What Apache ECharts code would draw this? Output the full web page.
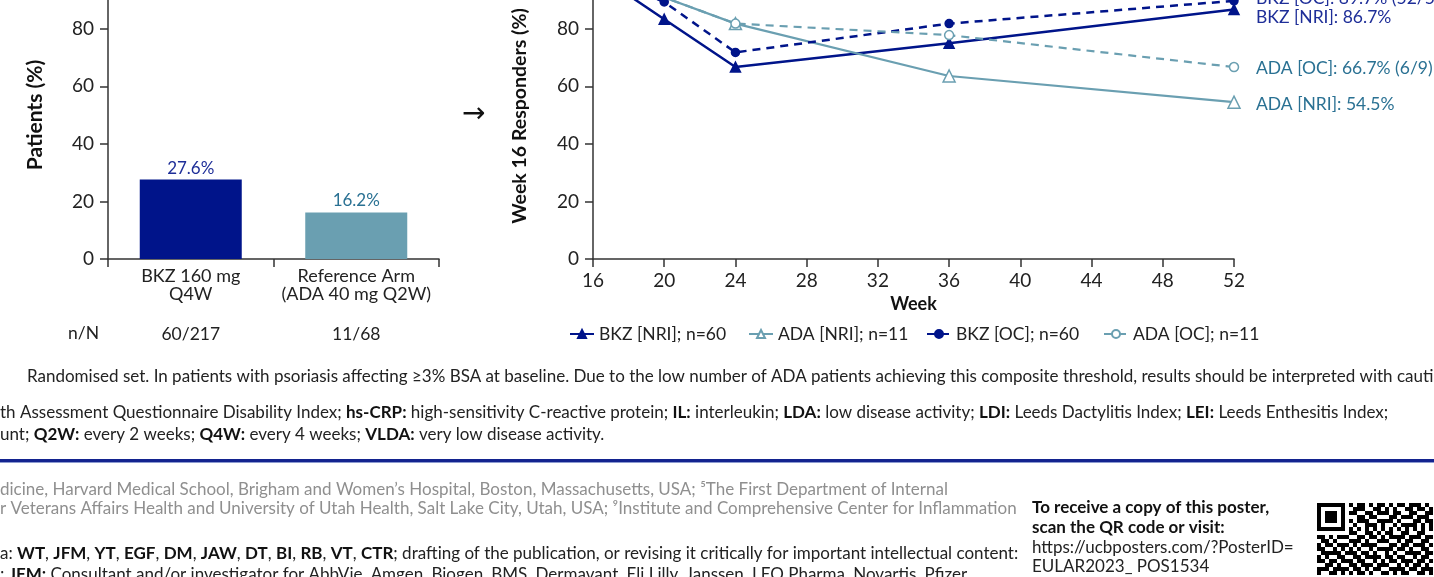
<!DOCTYPE html>
<html>
<head>
<meta charset="utf-8">
<script src="https://cdn.jsdelivr.net/npm/echarts@6.0.0/dist/echarts.min.js"></script>
<style>
  html, body { margin: 0; padding: 0; background: #fff; }
  #chart { width: 1434px; height: 577px; }
</style>
</head>
<body>
<div id="chart"></div>
<script>
// bar panel
const barCategories = ['BKZ 160 mg\nQ4W', 'Reference Arm\n(ADA 40 mg Q2W)']
const barValues = [27.6, 16.2]
const barCounts = ['60/217', '11/68']

// line panel
const weeks = [16, 20, 24, 36, 52]
const bkzNri = [100, 83.3, 66.7, 75.0, 86.7]
const adaNri = [100, 90.9, 81.8, 63.6, 54.5]
const bkzOc = [100, 89.3, 71.8, 81.8, 89.7]
const adaOc = [100, 90.9, 81.8, 77.8, 66.7]

const NAVY = '#00148A'
const TEAL = '#6A9FB1'
const NAVY_TXT = '#1E2E98'
const TEAL_TXT = '#2A7193'
const FONT = 'Lato, "Noto Sans", sans-serif'

const pairs = vals => weeks.map((w, i) => [w, vals[i]])

// QR code is only decoration
const qrRows = [
  '11111110101101011010110111010',
  '10000010011100110101001101101',
  '10111010110011011101100110011',
  '10111010001101100011011101110',
  '10111010101110011110100011011',
  '10000010010011101001011110101',
  '11111110101010101010101010101',
  '00000000110011010110011001100',
  '11010111001101101011110111011',
  '01101000111010011100101100110',
  '10110111010111100011011011101',
  '11001010101001011110110100110',
  '01111101110110100101001111011',
  '10100110011011110110110010110',
  '11011011101100101011011101101',
  '00110100110111011100101011010',
  '11101111011010110011110110111',
  '10011010101101001101011001101'
]
const qr = []
qrRows.forEach((row, r) => {
  for (let c = 0; c < row.length; c++) {
    if (row[c] === '1') {
      qr.push({ type: 'rect', shape: { x: 1317 + c * 4, y: 503 + r * 4, width: 4, height: 4 }, style: { fill: '#000' } })
    }
  }
})

const txt = (x, y, text, color, size) => ({
  type: 'text', x: x, y: y,
  style: {
    text: text, fill: color || '#222', font: (size || 17) + 'px ' + FONT, verticalAlign: 'middle',
    rich: {
      b: { fontWeight: 'bold', fontSize: size || 17, fontFamily: FONT, fill: '#111' }
    }
  }
})

// rotated axis title
const vTitle = (x, y, text, size) => ({
  type: 'text', x: x, y: y, rotation: Math.PI / 2,
  style: { text: text, fill: '#111', font: 'bold ' + size + 'px ' + FONT, align: 'center', verticalAlign: 'middle' }
})

// fresh objects for every axis
const tick = () => ({ show: true, length: 8, lineStyle: { color: '#333', width: 1.5 } })
const axisLn = () => ({ show: true, lineStyle: { color: '#333', width: 1.5 } })

const yAxisFor = gridIndex => ({
  type: 'value', gridIndex: gridIndex, min: 0, max: 90, interval: 20,
  axisLine: axisLn(),
  axisTick: tick(),
  axisLabel: { color: '#222', fontSize: 19, fontFamily: FONT, margin: 14, showMaxLabel: false },
  splitLine: { show: false }
})

const lineSeries = (name, vals, color, dashed, symbol, size, width, label, labelColor, dy) => ({
  name: name, type: 'line', xAxisIndex: 2, yAxisIndex: 1,
  data: pairs(vals),
  symbol: symbol, symbolSize: size,
  showAllSymbol: true,
  lineStyle: { color: color, width: width, type: dashed ? [8, 6] : 'solid' },
  itemStyle: { color: color, borderColor: color, borderWidth: 1.5 },
  emphasis: { disabled: true },
  endLabel: {
    show: true, formatter: label, color: labelColor, fontSize: 17.5, fontFamily: FONT,
    distance: 22, offset: [0, dy]
  }
})

const legendAt = (left, name) => ({
  left: left, top: 325, padding: 0, itemWidth: 24, itemHeight: 10, itemGap: 0,
  data: [name], selectedMode: false,
  textStyle: { fontSize: 17.5, color: '#222', fontFamily: FONT }
})

const option = {
  animation: false,
  grid: [
    { left: 108, width: 331, top: 0, height: 259 },
    { left: 593, width: 641, top: 0, height: 259 }
  ],
  xAxis: [
    {
      type: 'category', gridIndex: 0, data: barCategories,
      axisLine: axisLn(),
      axisTick: Object.assign(tick(), { alignWithLabel: false }),
      axisLabel: { color: '#222', fontSize: 18, fontFamily: FONT, margin: 8, lineHeight: 18, interval: 0 }
    },
    {
      type: 'category', gridIndex: 0, data: barCounts, position: 'bottom', offset: 66,
      axisLine: { show: false }, axisTick: { show: false },
      axisLabel: { color: '#222', fontSize: 17.5, fontFamily: FONT, margin: 0, interval: 0 }
    },
    {
      type: 'value', gridIndex: 1, min: 16, max: 52, interval: 4,
      name: 'Week', nameLocation: 'middle', nameGap: 36,
      nameTextStyle: { fontWeight: 'bold', fontSize: 18, color: '#111', fontFamily: FONT },
      axisLine: axisLn(),
      axisTick: tick(),
      axisLabel: { color: '#222', fontSize: 19, fontFamily: FONT, margin: 12 },
      splitLine: { show: false }
    }
  ],
  yAxis: [yAxisFor(0), yAxisFor(1)],
  legend: [
    legendAt(569, 'BKZ [NRI]; n=60'),
    legendAt(748, 'ADA [NRI]; n=11'),
    legendAt(926, 'BKZ [OC]; n=60'),
    legendAt(1103, 'ADA [OC]; n=11')
  ],
  series: [
    {
      type: 'bar', xAxisIndex: 0, yAxisIndex: 0,
      barWidth: 102,
      data: barValues.map((v, i) => ({
        value: v,
        itemStyle: { color: i === 0 ? NAVY : TEAL },
        label: { color: i === 0 ? NAVY_TXT : TEAL_TXT }
      })),
      label: {
        show: true, position: 'top', distance: 3, fontSize: 17, fontFamily: FONT,
        formatter: p => p.value.toFixed(1) + '%'
      },
      emphasis: { disabled: true }
    },
    lineSeries('BKZ [NRI]; n=60', bkzNri, NAVY, false, 'triangle', 10, 2.5, 'BKZ [NRI]: 86.7%', NAVY_TXT, 8),
    Object.assign(lineSeries('ADA [NRI]; n=11', adaNri, TEAL, false, 'triangle', 12, 2.2, 'ADA [NRI]: 54.5%', TEAL_TXT, 2),
      { itemStyle: { color: '#fff', borderColor: TEAL, borderWidth: 1.5 } }),
    lineSeries('BKZ [OC]; n=60', bkzOc, NAVY, true, 'circle', 8, 2.5, 'BKZ [OC]: 89.7% (52/58)', NAVY_TXT, -3),
    Object.assign(lineSeries('ADA [OC]; n=11', adaOc, TEAL, true, 'circle', 9, 2.2, 'ADA [OC]: 66.7% (6/9)', TEAL_TXT, 1),
      { itemStyle: { color: '#fff', borderColor: TEAL, borderWidth: 1.5 } })
  ],
  graphic: [
    vTitle(35, 115, 'Patients (%)', 21),
    vTitle(520, 116, 'Week 16 Responders (%)', 19.5),
    txt(68, 333, 'n/N', '#222', 17.5),
    { type: 'text', x: 462, y: 115, style: { text: '→', fill: '#111', font: '28px "DejaVu Sans"', verticalAlign: 'middle' } },
    txt(27, 377, 'Randomised set. In patients with psoriasis affecting ≥3% BSA at baseline. Due to the low number of ADA patients achieving this composite threshold, results should be interpreted with caution.'),
    txt(0, 413, 'th Assessment Questionnaire Disability Index; {b|hs-CRP:} high-sensitivity C-reactive protein; {b|IL:} interleukin; {b|LDA:} low disease activity; {b|LDI:} Leeds Dactylitis Index; {b|LEI:} Leeds Enthesitis Index;'),
    txt(0, 435, 'unt; {b|Q2W:} every 2 weeks; {b|Q4W:} every 4 weeks; {b|VLDA:} very low disease activity.'),
    { type: 'rect', shape: { x: 0, y: 459, width: 1434, height: 3 }, style: { fill: '#13238F' } },
    { type: 'rect', shape: { x: 0, y: 462, width: 1434, height: 1 }, style: { fill: '#8C9AD0' } },
    txt(0, 490, 'dicine, Harvard Medical School, Brigham and Women’s Hospital, Boston, Massachusetts, USA; ⁵The First Department of Internal', '#8f8f8f'),
    txt(0, 509, 'r Veterans Affairs Health and University of Utah Health, Salt Lake City, Utah, USA; ⁹Institute and Comprehensive Center for Inflammation', '#8f8f8f'),
    txt(0, 554, 'a: {b|WT}, {b|JFM}, {b|YT}, {b|EGF}, {b|DM}, {b|JAW}, {b|DT}, {b|BI}, {b|RB}, {b|VT}, {b|CTR}; drafting of the publication, or revising it critically for important intellectual content:'),
    txt(0, 575, '; {b|JFM:} Consultant and/or investigator for AbbVie, Amgen, Biogen, BMS, Dermavant, Eli Lilly, Janssen, LEO Pharma, Novartis, Pfizer,'),
    txt(1032, 508, '{b|To receive a copy of this poster,}'),
    txt(1032, 528, '{b|scan the QR code or visit:}'),
    txt(1032, 548, 'https://ucbposters.com/?PosterID='),
    txt(1032, 567, 'EULAR2023_ POS1534')
  ].concat(qr)
}

const myChart = echarts.init(document.getElementById('chart'))
myChart.setOption(option)
</script>
</body>
</html>
